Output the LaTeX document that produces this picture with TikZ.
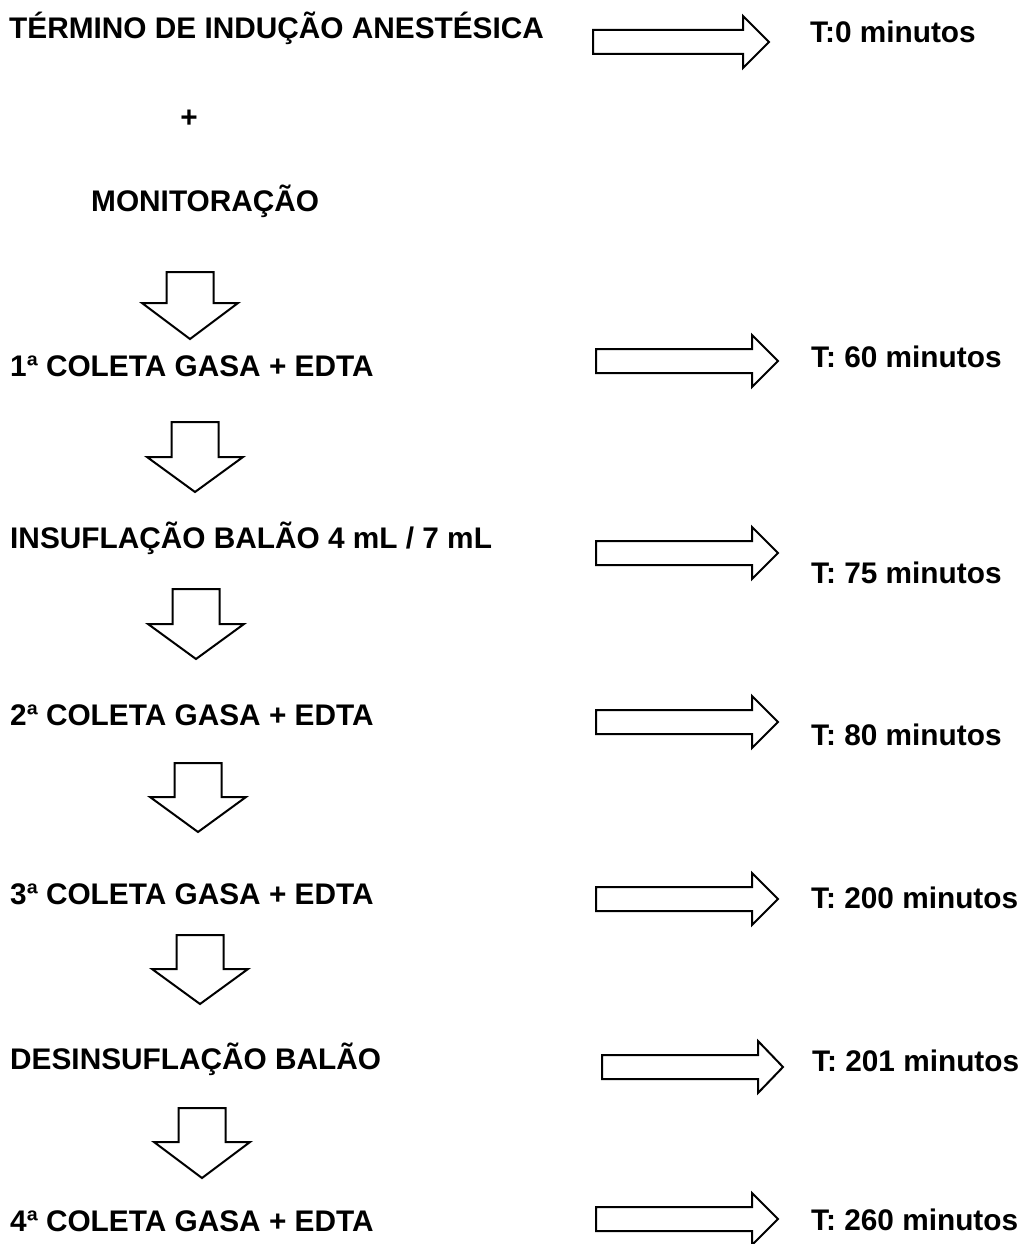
\documentclass[tikz,border=0pt]{standalone}
\usepackage{fontspec}
\setmainfont{Liberation Sans}
\newcommand\RArrow[5]{% name, x start, x head base, x tip, y centre
  \draw[blockarrow] (#2,{#5-12}) -- (#3,{#5-12}) -- (#3,{#5-26}) -- (#4,#5)
    -- (#3,{#5+26}) -- (#3,{#5+12}) -- (#2,{#5+12}) -- cycle;
  \coordinate (#1) at (#4,#5);}
\newcommand\DArrow[5]{% name, x centre, y top, y head base, y tip
  \draw[blockarrow] ({#2-23.5},#3) -- ({#2+23.5},#3) -- ({#2+23.5},#4) -- ({#2+48},#4)
    -- (#2,#5) -- ({#2-48},#4) -- ({#2-23.5},#4) -- cycle;
  \coordinate (#1) at (#2,#5);}
\begin{document}
\begin{tikzpicture}[x=1pt,y=-1pt,
  lbl/.style={anchor=base west,inner sep=0pt,font=\fontsize{29.8}{32}\selectfont\bfseries},
  blockarrow/.style={draw=black,line width=2pt,fill=white,line join=miter}]
\useasboundingbox[fill=white] (0,0) rectangle (1030,1244);
% left column
\node[lbl] (s0) at (9,39) {TÉRMINO DE INDUÇÃO ANESTÉSICA};
\node[lbl,anchor=base] (plus) at (189,128) {+};
\node[lbl] (mon) at (91,211) {MONITORAÇÃO};
\node[lbl] (s1) at (10,376) {1ª COLETA GASA + EDTA};
\node[lbl] (s2) at (10,548) {INSUFLAÇÃO BALÃO 4 mL / 7 mL};
\node[lbl] (s3) at (10,725) {2ª COLETA GASA + EDTA};
\node[lbl] (s4) at (10,904) {3ª COLETA GASA + EDTA};
\node[lbl] (s5) at (10,1069) {DESINSUFLAÇÃO BALÃO};
\node[lbl] (s6) at (10,1231) {4ª COLETA GASA + EDTA};
% right column
\node[lbl] (t0) at (810,43) {T:0 minutos};
\node[lbl] (t1) at (811,367) {T: 60 minutos};
\node[lbl] (t2) at (811,583) {T: 75 minutos};
\node[lbl] (t3) at (811,745) {T: 80 minutos};
\node[lbl] (t4) at (811,908) {T: 200 minutos};
\node[lbl] (t5) at (812,1071) {T: 201 minutos};
\node[lbl] (t6) at (811,1230) {T: 260 minutos};
% down arrows
\DArrow{d1}{190}{272}{303}{339}
\DArrow{d2}{195}{422}{457}{492}
\DArrow{d3}{196}{589}{624}{659}
\DArrow{d4}{198}{763}{797}{832}
\DArrow{d5}{200}{935}{969}{1004}
\DArrow{d6}{202}{1108}{1142}{1178}
% right arrows
\RArrow{r0}{593}{743}{769}{42}
\RArrow{r1}{596}{752}{778}{361}
\RArrow{r2}{596}{752}{778}{553}
\RArrow{r3}{596}{752}{778}{722}
\RArrow{r4}{596}{752}{778}{899}
\RArrow{r5}{602}{758}{783}{1067}
\RArrow{r6}{596}{752}{778}{1219}
\end{tikzpicture}
\end{document}
